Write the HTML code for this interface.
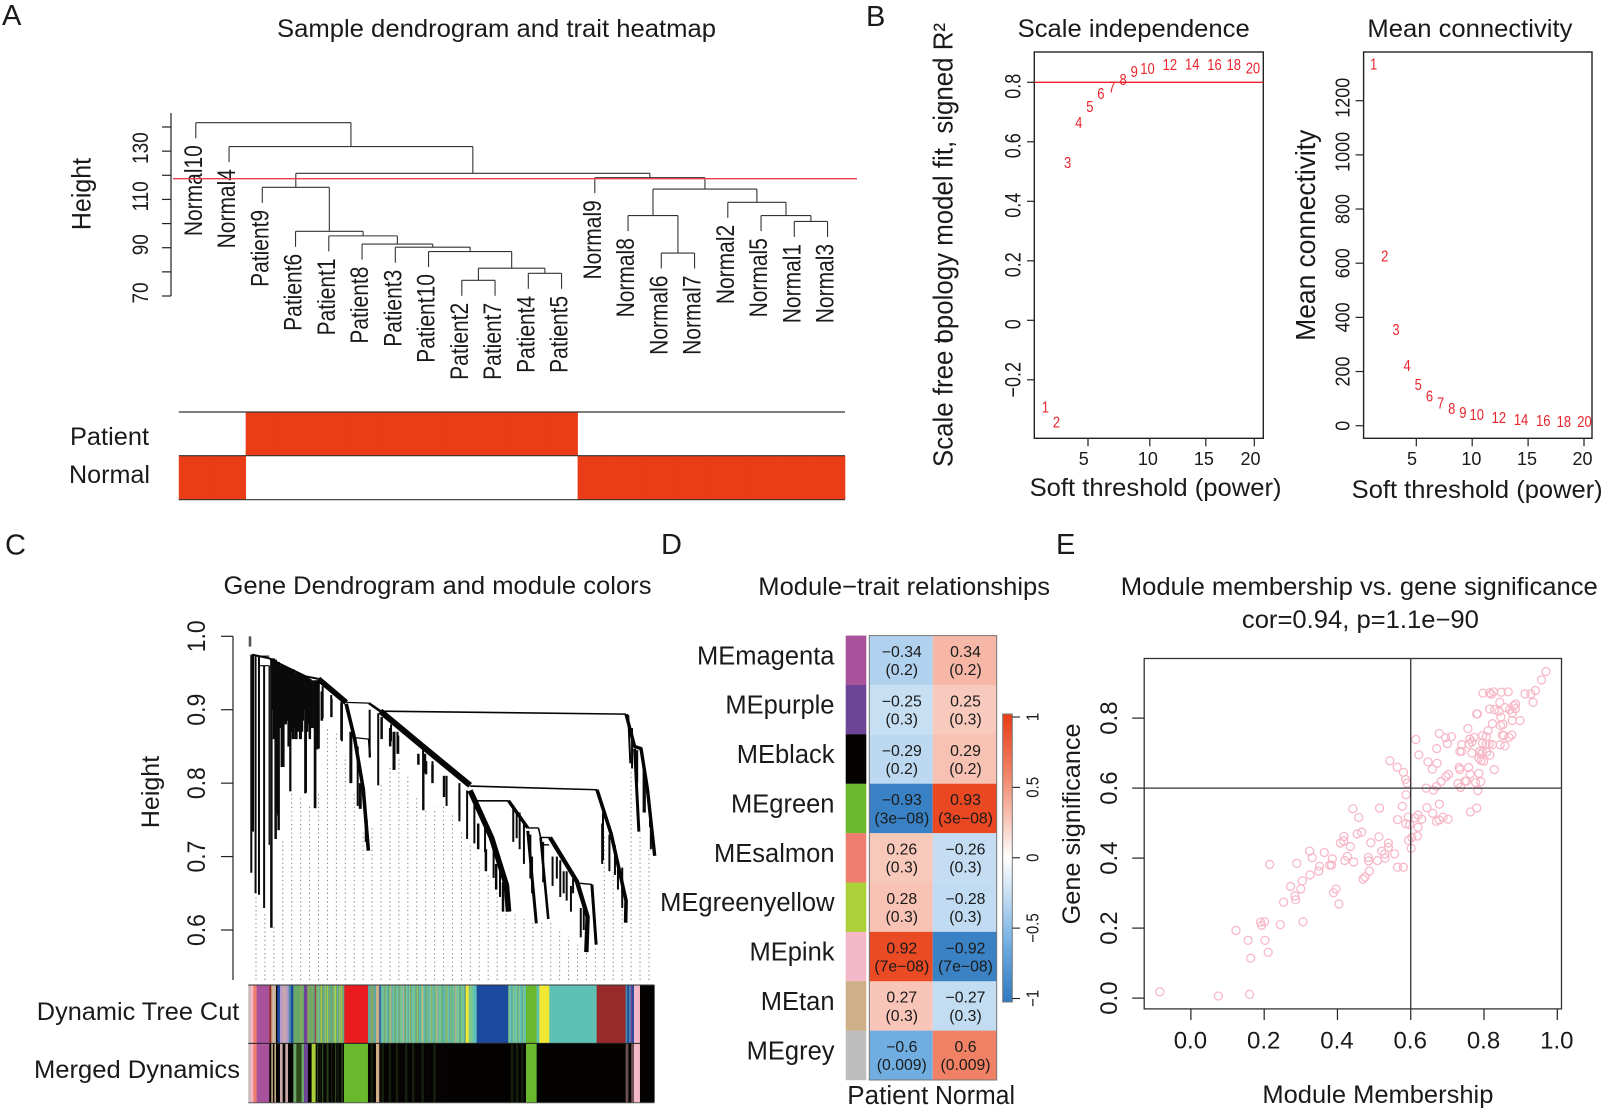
<!DOCTYPE html>
<html lang="en">
<head>
<meta charset="utf-8">
<title>WGCNA figure</title>
<style>
html,body{margin:0;padding:0;background:#fff;}
svg{display:block;}
text{font-family:"Liberation Sans",sans-serif;fill:#1a1a1a;}
</style>
</head>
<body>
<svg id="fig" xmlns="http://www.w3.org/2000/svg" width="1605" height="1111" viewBox="0 0 1605 1111">
<rect x="0" y="0" width="1605" height="1111" fill="#fff"/>

<text x="2" y="25" font-size="29">A</text>
<text x="866" y="26" font-size="29">B</text>
<text x="5" y="554.5" font-size="29">C</text>
<text x="661" y="554" font-size="29">D</text>
<text x="1056" y="554" font-size="29">E</text>

<text x="277" y="37" font-size="25" textLength="439" lengthAdjust="spacingAndGlyphs">Sample dendrogram and trait heatmap</text>
<text transform="translate(90.5,194) rotate(-90) scale(1,1.08)" text-anchor="middle" font-size="25">Height</text>
<text x="70" y="445" font-size="25" textLength="79" lengthAdjust="spacingAndGlyphs">Patient</text>
<text x="69" y="483" font-size="25" textLength="81" lengthAdjust="spacingAndGlyphs">Normal</text>

<text x="1017.7" y="37" font-size="25" textLength="232" lengthAdjust="spacingAndGlyphs">Scale independence</text>
<text x="1367.4" y="37" font-size="25" textLength="205" lengthAdjust="spacingAndGlyphs">Mean connectivity</text>
<text transform="translate(952.6,467) rotate(-90) scale(1,1.1)" font-size="25" textLength="444" lengthAdjust="spacingAndGlyphs">Scale free t<tspan dx="-7">opology model fit, signed R²</tspan></text>
<text transform="translate(1315,340.7) rotate(-90) scale(1,1.1)" font-size="25" textLength="211" lengthAdjust="spacingAndGlyphs">Mean connectivity</text>
<text x="1029.6" y="496" font-size="25" textLength="252" lengthAdjust="spacingAndGlyphs">Soft threshold (power)</text>
<text x="1351.7" y="498" font-size="25" textLength="251" lengthAdjust="spacingAndGlyphs">Soft threshold (power)</text>

<text x="223.5" y="594" font-size="25" textLength="428" lengthAdjust="spacingAndGlyphs">Gene Dendrogram and module colors</text>
<text transform="translate(159,792) rotate(-90)" text-anchor="middle" font-size="25">Height</text>
<text x="36.8" y="1020" font-size="25" textLength="202.5" lengthAdjust="spacingAndGlyphs">Dynamic Tree Cut</text>
<text x="34" y="1078" font-size="25" textLength="206" lengthAdjust="spacingAndGlyphs">Merged Dynamics</text>

<text x="758.3" y="595" font-size="25" textLength="291.7" lengthAdjust="spacingAndGlyphs">Module−trait relationships</text>
<text x="847.3" y="1104" font-size="25.5" textLength="81" lengthAdjust="spacingAndGlyphs">Patient</text>
<text x="935" y="1104" font-size="25.5" textLength="80" lengthAdjust="spacingAndGlyphs">Normal</text>

<text x="1120.8" y="595" font-size="25" textLength="477" lengthAdjust="spacingAndGlyphs">Module membership vs. gene significance</text>
<text x="1241.9" y="628" font-size="25" textLength="237" lengthAdjust="spacingAndGlyphs">cor=0.94, p=1.1e−90</text>
<text x="1262.4" y="1103" font-size="25" textLength="231" lengthAdjust="spacingAndGlyphs">Module Membership</text>
<text transform="translate(1080,924.4) rotate(-90)" font-size="25" textLength="201" lengthAdjust="spacingAndGlyphs">Gene significance</text>
</svg>

<script>
/* ---------- Panel A data ---------- */
const sampleNames = ["Normal10","Normal4","Patient9","Patient6","Patient1","Patient8","Patient3","Patient10","Patient2","Patient7","Patient4","Patient5","Normal9","Normal8","Normal6","Normal7","Normal2","Normal5","Normal1","Normal3"];
/* nested merges: [height, left, right]; a bare number is a leaf index */
const sampleTree = [141.8, 0, [131.9, 1, [120.8,
  [115, 2, [96.8, 3, [94.9, 4, [91.5, 5, [90.2, 6, [88.4, 7, [81.5, [76.5, 8, 9], [79.4, 10, 11]]]]]]]],
  [119, 12, [114.3, [103.3, 13, [87.8, 14, 15]], [108.8, 16, [103.3, 17, [100.9, 18, 19]]]]]
]]];
const sampleHeightTicks = [70,80,90,100,110,120,130,140];
const sampleHeightLabels = [70,90,110,130];
const sampleCutHeight = 118.6;
const traitRows = ["Patient","Normal"];
const traitPatientFlags = [0,0,1,1,1,1,1,1,1,1,1,1,0,0,0,0,0,0,0,0];

/* ---------- Panel B data ---------- */
const softPowers = [1,2,3,4,5,6,7,8,9,10,12,14,16,18,20];
const scaleFitValues = [-0.291,-0.342,0.531,0.665,0.718,0.762,0.785,0.81,0.837,0.847,0.86,0.861,0.86,0.859,0.848];
const meanConnectivityValues = [1335,627,356,223,153,110,83,64,49,42,30,22,18.5,16,15];
const powerTicks = [5,10,15,20];
const scaleFitTicks = [-0.2,0,0.2,0.4,0.6,0.8];
const connectivityTicks = [0,200,400,600,800,1000,1200];
const scaleFitThreshold = 0.8;

/* ---------- Panel C data (rank = position along the gene order, height = dissimilarity) ---------- */
const geneBackbones = [
 {w:2.6,pts:[[4,1.0],[4,.986]],c:"#555"},
 {w:2,pts:[[9,.975],[49,.970],[79,.961],[134,.9455],[164,.942]]},
 {w:5.5,pts:[[164,.942],[229,.910]]},
 {w:1.2,pts:[[229,.910],[282,.909]]},
 {w:2.5,pts:[[282,.909],[309,.898]]},
 {w:6,pts:[[309,.898],[404,.852],[519,.797]]},
 {w:3.6,pts:[[229,.908],[249,.860],[269,.792],[281,.708]]},
 {w:1.2,pts:[[249,.862],[282,.860]]},
 {w:2,pts:[[282,.860],[285,.835]]},
 {w:1.6,pts:[[309,.898],[884,.894]]},
 {w:3.4,pts:[[884,.894],[904,.850],[919,.847],[934,.792],[951,.701]]},
 {w:2,pts:[[889,.893],[894,.827]]},
 {w:3,pts:[[904,.847],[914,.734]]},
 {w:1.6,pts:[[519,.796],[816,.791]]},
 {w:3.6,pts:[[816,.791],[849,.731],[884,.640],[883,.610]]},
 {w:1.6,pts:[[524,.776],[609,.776]]},
 {w:5.6,pts:[[519,.79],[569,.726],[604,.661],[609,.625]]},
 {w:3.4,pts:[[609,.776],[654,.739]]},
 {w:1.4,pts:[[654,.739],[679,.739]]},
 {w:3,pts:[[654,.735],[674,.609]]},
 {w:1.6,pts:[[679,.739],[684,.726]]},
 {w:1.4,pts:[[684,.726],[706,.726]]},
 {w:1.4,pts:[[684,.716],[704,.716]]},
 {w:2.6,pts:[[684,.726],[702,.615]]},
 {w:4.4,pts:[[706,.726],[769,.666],[794,.618],[791,.570]]},
 {w:1.4,pts:[[769,.664],[804,.662]]},
 {w:3,pts:[[804,.662],[814,.580]]},
 {w:1.1,pts:[[27,.973],[49,.973]]},
 {w:1.1,pts:[[27,.96],[49,.96]]}
];
const geneSpikeRanks = [7,11,17,25,37,54,49,64,71,79,69,84,99,105,115,125,135,140,150,157,165,174,194,219,256,284,304,334,349,409,414,431,464,494,512,529,554,574,589,60,75,92,110,120,130,145,160,620,635,664,712,730,745,760,830,845,865,875,925,940,
 58,63,68,74,78,82,87,91,95,98,103,107,112,117,122,127,133,137,144,150,156,161,172,195,218,240,262,276,312,332,341,351,398,410,416,431,458,494,538,556,580,596,628,645,660,690,722,738,755,778,785,828,858,875,898,910,928,942];
const geneSpikeTops = [.975,.975,.975,.972,.96,.97,.96,.968,.965,.96,.96,.958,.955,.955,.95,.948,.945,.945,.94,.94,.938,.932,.92,.912,.85,.9,.895,.88,.87,.85,.84,.83,.81,.8,.79,.77,.74,.72,.69,.968,.96,.957,.95,.95,.945,.942,.94,.77,.76,.70,.70,.695,.68,.67,.76,.73,.69,.66,.82,.76,
 .97,.968,.965,.96,.96,.958,.957,.956,.955,.955,.953,.952,.95,.95,.948,.947,.945,.945,.942,.94,.94,.94,.925,.915,.91,.87,.80,.75,.89,.875,.87,.865,.84,.84,.83,.825,.81,.79,.745,.71,.69,.665,.76,.745,.73,.72,.70,.68,.66,.63,.64,.745,.715,.685,.875,.845,.82,.75];
const geneSpikeBottoms = [.678,.734,.650,.648,.630,.603,.716,.724,.736,.822,.756,.893,.789,.86,.88,.87,.787,.88,.9,.766,.847,.888,.89,.857,.769,.835,.797,.857,.84,.764,.814,.802,.769,.756,.724,.718,.706,.671,.645,.86,.875,.89,.9,.905,.9,.895,.9,.72,.71,.65,.66,.645,.64,.65,.695,.68,.655,.63,.76,.74,
 .90,.88,.76,.90,.89,.822,.88,.885,.85,.789,.87,.875,.86,.87,.86,.885,.786,.87,.86,.875,.766,.846,.885,.89,.859,.80,.765,.72,.86,.85,.818,.84,.825,.763,.812,.80,.781,.748,.71,.68,.655,.625,.725,.69,.67,.665,.67,.65,.625,.59,.60,.69,.675,.65,.82,.80,.76,.71];
const geneSpikeWidths = [2,2,2,2,2,2.5,1.4,2.5,2.5,3,1.6,3,1.6,3,3,3,2,3,2.5,2,2,2,2,2,2,2,2,2,2,2,2,2,2,2,2,2,2,2,2,2.5,2.5,2.5,2.5,2.5,2.5,2.5,2.5,2,2,2,2,2,2,2,2,2,2,2,2,2,
 4,3,3,3,3,2.5,3,3,3,2,3,3,3,3,3,3,2,3,2.5,3,2.5,2.5,2.5,2,2.5,3,3,3,2.5,2.5,3,2,2.5,2,2.5,2.5,2.5,2,2.5,2.5,2.5,2.5,2,2,2,2,2,2,2,2,2,2,2,2,2,2,2,2];
const guideEnvelopeRanks = [0,19,59,79,99,159,189,219,279,309,349,409,464,519,609,669,704,789,815,819,884,894,914,951];
const guideEnvelopeHeights = [.648,.648,.603,.716,.789,.766,.89,.857,.708,.797,.84,.764,.769,.718,.625,.609,.615,.570,.580,.76,.610,.827,.734,.701];
const geneHeightTicks = [0.6,0.7,0.8,0.9,1.0];
const moduleKey = {a:"#c8b8b8",p:"#f4b8c8",s:"#f07e6e",m:"#a8529c",b:"#982a2c",n:"#cdb087",k:"#050202",B:"#1c4a9e",l:"#b89cc8",T:"#4a88b0",g:"#6ab82c",G:"#6aa868",u:"#6e4496",y:"#f0e832",Y:"#acd037",t:"#5fc0b6",q:"#5fa8a0",L:"#80c888",o:"#8aa860",r:"#ea1c20",d:"#2e4a18",D:"#15200c",h:"#c8a8a8",e:"#6a5050"};
/* [span, colour keys spread evenly across that span] */
const dynamicTreeCutRuns = [[7,"a"],[8,"p"],[10,"s"],[38,"m"],[6,"b"],[14,"nan"],[4,"k"],[8,"B"],[26,"lhl"],[14,"TB"],[15,"G"],[17,"GoG"],[10,"u"],[13,"oG"],
 [98,"oGqboGLqoYGqoLGYqoGqGoLYGqoLoYGq"],[71,"r"],[24,"qoq"],[10,"n"],[4,"B"],
 [256,"qtLqoLtqGLnqtLGqLtoqLLtnqGLtqLoqLtLqoLGtqLnLtqGLqtLoLqtGLnqLtLGqtqLoLtqLGtLqnLtLqGLtLqo"],[8,"y"],[24,"Lt"],[95,"B"],[53,"LtqLtLqLtqLt"],[32,"g"],[8,"t"],[30,"y"],[142,"t"],[87,"b"],[25,"TBTuB"],[18,"p"],[43,"k"]];
const mergedDynamicsRuns = [[7,"a"],[8,"p"],[10,"s"],[38,"m"],[6,"k"],[14,"nkn"],[12,"k"],[24,"hkh"],[16,"k"],[18,"Gd"],[14,"dG"],[12,"u"],[11,"k"],[12,"Y"],
 [85,"kdkDkdkkDdkkDkkdkDkkdk"],[72,"g"],[24,"kDk"],[10,"n"],[190,"kDkkDkkDkkkDkkDkkkDkkkkDkkk"],[197,"k"],[53,"kDkDkDk"],[32,"g"],[267,"k"],[25,"eke"],[18,"p"],[43,"k"]];

/* ---------- Panel D data ---------- */
const moduleNames = ["MEmagenta","MEpurple","MEblack","MEgreen","MEsalmon","MEgreenyellow","MEpink","MEtan","MEgrey"];
const moduleColors = ["#a8529c","#6e4496","#050202","#6ab82c","#f07e6e","#acd037","#f4b8c8","#cdb087","#bebebe"];
const patientCor = [-0.34,-0.25,-0.29,-0.93,0.26,0.28,0.92,0.27,-0.6];
const normalCor = [0.34,0.25,0.29,0.93,-0.26,-0.28,-0.92,-0.27,0.6];
const corPValues = ["(0.2)","(0.3)","(0.2)","(3e−08)","(0.3)","(0.3)","(7e−08)","(0.3)","(0.009)"];
const corBarTicks = [-1,-0.5,0,0.5,1];
const corStopValues = [-1,-0.9,-0.6,-0.3,0,0.3,0.6,1];
const corStopColors = ["#2f79bf","#3e84c7","#70aee2","#bbd8f1","#ffffff","#f7bfb0","#f08164","#e83c14"];

/* ---------- Panel E data ---------- */
const scatterTicksX = [0,0.2,0.4,0.6,0.8,1.0];
const scatterTicksY = [0,0.2,0.4,0.6,0.8];
const moduleMembership = [-.085,.075,.160,.123,.156,.163,.202,.211,.190,.193,.201,.244,.306,.215,.253,.272,.284,.286,.300,.304,.325,.289,.324,.331,.351,.349,.364,.379,.384,.386,.389,.396,.404,.408,.417,.418,.435,.420,.427,.444,.442,.458,.454,.466,.470,.475,.487,.484,.485,.491,.509,.513,.515,.521,.529,.530,.539,.539,.556,.564,.580,.564,.577,.543,.563,.580,.586,.590,.587,.587,.593,.594,.603,.601,.597,.611,.620,.620,.618,.630,.644,.660,.678,.670,.678,.688,.702,.614,.622,.647,.659,.672,.671,.678,.695,.700,.711,.642,.662,.670,.683,.696,.703,.729,.736,.732,.734,.758,.762,.748,.752,.777,.786,.791,.783,.763,.780,.828,.734,.739,.739,.756,.759,.761,.767,.773,.767,.789,.792,.786,.792,.799,.796,.807,.816,.796,.806,.814,.796,.806,.811,.823,.780,.782,.797,.815,.820,.826,.847,.866,.815,.829,.841,.843,.846,.845,.852,.823,.844,.857,.850,.854,.868,.876,.858,.870,.877,.877,.886,.886,.881,.898,.912,.928,.940,.934,.957,.969];
const geneSignificance = [.018,.006,.011,.193,.165,.114,.165,.131,.217,.208,.218,.210,.218,.382,.274,.319,.292,.281,.312,.335,.352,.385,.420,.401,.377,.363,.416,.380,.380,.398,.301,.312,.269,.443,.449,.462,.433,.393,.405,.389,.541,.516,.469,.474,.340,.346,.363,.402,.392,.444,.393,.461,.543,.420,.412,.400,.443,.431,.412,.374,.374,.510,.548,.678,.660,.645,.625,.614,.581,.498,.517,.451,.459,.428,.496,.515,.523,.488,.463,.511,.544,.528,.554,.505,.509,.517,.511,.739,.695,.675,.654,.671,.713,.756,.744,.727,.747,.600,.594,.605,.619,.633,.639,.613,.602,.659,.653,.659,.640,.620,.620,.616,.642,.618,.593,.532,.543,.653,.705,.705,.724,.770,.726,.740,.732,.745,.700,.705,.697,.686,.679,.677,.703,.703,.694,.729,.726,.726,.750,.747,.764,.784,.812,.812,.871,.872,.868,.875,.874,.875,.826,.824,.819,.845,.803,.779,.782,.724,.724,.721,.752,.750,.745,.752,.830,.824,.814,.793,.827,.840,.835,.793,.869,.869,.879,.845,.909,.933];
const scatterCutX = 0.6;
const scatterCutY = 0.6;

/* ---------- drawing helpers ---------- */
const svg = document.getElementById("fig");
const NS = "http://www.w3.org/2000/svg";
const INK = "#222";
function mk(tag, attrs, parent, content){
  const el = document.createElementNS(NS, tag);
  for (const k in attrs) el.setAttribute(k, attrs[k]);
  if (content !== undefined) el.textContent = content;
  (parent || svg).appendChild(el);
  return el;
}
function seg(x1,y1,x2,y2,stroke,w,parent){
  return mk("line",{x1:x1,y1:y1,x2:x2,y2:y2,stroke:stroke||INK,"stroke-width":w||1.2},parent);
}
function pw(dom, rng){
  return function(v){
    let i = 0;
    while (i < dom.length-2 && v > dom[i+1]) i++;
    return rng[i] + (v-dom[i])*(rng[i+1]-rng[i])/(dom[i+1]-dom[i]);
  };
}
function minus(v){ return String(v).replace("-", "−"); }
function group(name){
  const g = mk("g",{});
  
  
  return g;
}

/* ---------- Panel A ---------- */
(function(){
  const g = group("sample-dendrogram-panel");
  const leafX = i => 195.8 + i*33.25;
  const heightY = pw([70,140],[296,127]);
  const axis = seg(171,113,171,296,INK,1.2,g);
  
  
  sampleHeightTicks.forEach(t=>{
    const k = seg(162,heightY(t),171,heightY(t),INK,1.2,g);
    
    
  });
  sampleHeightLabels.forEach(t=>{
    const l = mk("text",{transform:`translate(148,${heightY(t)-3}) rotate(-90) scale(1,1.18)`,"text-anchor":"middle","font-size":19},g,String(t));
    
    
  });
  const LEAF = 15.5;
  function walk(node, parentH){
    if (typeof node === "number"){
      const x = leafX(node), top = heightY(parentH), end = top + LEAF;
      const b = seg(x,top,x,end,"#333",1.1,g);
      
      
      const t = mk("text",{transform:`translate(${x+6},${end+7}) rotate(-90) scale(1,1.2)`,"text-anchor":"end","font-size":21},g,sampleNames[node]);
      
      
      return x;
    }
    const xl = walk(node[1], node[0]), xr = walk(node[2], node[0]);
    const y = heightY(node[0]);
    const h = seg(xl,y,xr,y,"#333",1.1,g);
    
    
    const xm = (xl+xr)/2;
    if (parentH !== undefined){
      const v = seg(xm,y,xm,heightY(parentH),"#333",1.1,g);
      
      
    }
    return xm;
  }
  walk(sampleTree);
  const cut = seg(173,heightY(sampleCutHeight),857,heightY(sampleCutHeight),"#e8404a",1.3,g);
  
  

  const cellX = pw([0,2,12,20],[178.8,245.7,577.6,845]);
  const traitTop = [412,455.7];
  traitRows.forEach((row,r)=>{
    traitPatientFlags.forEach((flag,i)=>{
      const on = r===0 ? flag===1 : flag===0;
      if (!on) return;
      const c = mk("rect",{x:cellX(i),y:traitTop[r],width:cellX(i+1)-cellX(i)+0.3,height:43.9,fill:"#e93c17"},g);
      
      
    });
  });
  [412,455.7,499.7].forEach(y=>{
    const l = seg(178.8,y,845,y,"#333",1.2,g);
    
    
  });
})();

/* ---------- Panel B ---------- */
(function(){
  const g = group("soft-threshold-panels");
  const fitY = pw([0,0.8],[320.3,82.3]);
  const conY = pw([0,1200],[425.7,100.7]);
  const fitLabelX = pw([1,9,10,16,20],[1041.8,1130.6,1140.3,1207.3,1245.7]);
  const conLabelX = pw([1,9,10,16,20],[1370,1459.3,1469.5,1536,1577.3]);
  const fitTickX = pw([5,10,15,20],[1088,1149.8,1205.8,1254.3]);
  const fitTickTextX = pw([5,10,15,20],[1083.8,1147.9,1203.9,1250.5]);
  const conTickX = pw([5,20],[1416.3,1584]);
  const conTickTextX = pw([5,10,15,20],[1412,1471.4,1527,1582.5]);

  const box1 = mk("rect",{x:1034.3,y:52,width:229,height:386.3,fill:"none",stroke:INK,"stroke-width":1.4},g);
  
  
  const box2 = mk("rect",{x:1363.6,y:52,width:228.4,height:386.3,fill:"none",stroke:INK,"stroke-width":1.4},g);
  
  

  scaleFitTicks.forEach(t=>{
    const k = seg(1027,fitY(t),1034.3,fitY(t),INK,1.2,g);
    
    
    const l = mk("text",{transform:`translate(1020.6,${fitY(t)+(t<0?0:4)}) rotate(-90) scale(1,1.22)`,"text-anchor":"middle","font-size":18},g,minus(t));
    
    
  });
  connectivityTicks.forEach(t=>{
    const k = seg(1355.6,conY(t),1363.6,conY(t),INK,1.2,g);
    
    
    const l = mk("text",{transform:`translate(1349.3,${conY(t)+(t>=1000?-3:0)}) rotate(-90) scale(1,1.15)`,"text-anchor":"middle","font-size":18},g,String(t));
    
    
  });
  powerTicks.forEach(t=>{
    const k1 = seg(fitTickX(t),438.3,fitTickX(t),446.3,INK,1.2,g);
    
    
    const l1 = mk("text",{x:fitTickTextX(t),y:465,"text-anchor":"middle","font-size":18},g,String(t));
    
    
    const k2 = seg(conTickX(t),438.3,conTickX(t),446.3,INK,1.2,g);
    
    
    const l2 = mk("text",{x:conTickTextX(t),y:465,"text-anchor":"middle","font-size":18},g,String(t));
    
    
  });
  const thr = seg(1034.3,fitY(scaleFitThreshold),1263.3,fitY(scaleFitThreshold),"#e8202a",1.4,g);
  
  
  softPowers.forEach((p,i)=>{
    const a = mk("text",{transform:`translate(${fitLabelX(p)},${fitY(scaleFitValues[i])+5.5}) scale(1,1.2)`,"font-size":13,style:"fill:#e8242c"},g,String(p));
    
    
    const b = mk("text",{transform:`translate(${conLabelX(p)},${conY(meanConnectivityValues[i])+5.5}) scale(1,1.2)`,"font-size":13,style:"fill:#e8242c"},g,String(p));
    
    
  });
})();

/* ---------- Panel C ---------- */
(function(){
  const g = group("gene-dendrogram-panel");
  const rankX = pw([0,951],[248.3,654.7]);
  const heightY = pw([0.6,1.0],[930,636.3]);
  const envelope = pw(guideEnvelopeRanks, guideEnvelopeHeights);
  const BOTTOM = 980;
  for (let r = 18; r < 951; r += 20.9){
    const d = seg(rankX(r),BOTTOM,rankX(r),heightY(envelope(r)),"#777",1,g);
    d.setAttribute("stroke-dasharray","1.2 3.1");
    
    
  }
  geneSpikeRanks.forEach((r,i)=>{
    const s = seg(rankX(r),heightY(geneSpikeTops[i]),rankX(r),heightY(geneSpikeBottoms[i]),"#0a0a0a",geneSpikeWidths[i],g);
    
    
  });
  geneBackbones.forEach(b=>{
    const pts = b.pts.map(p=>rankX(p[0])+","+heightY(p[1])).join(" ");
    const l = mk("polyline",{points:pts,fill:"none",stroke:b.c||"#050505","stroke-width":b.w,"stroke-linejoin":"round"},g);
    
    
  });
  const axis = seg(233,636.3,233,980,INK,1.2,g);
  
  
  geneHeightTicks.forEach(t=>{
    const k = seg(221,heightY(t),233,heightY(t),INK,1.2,g);
    
    
    const l = mk("text",{transform:`translate(205,${heightY(t)}) rotate(-90) scale(1,1.1)`,"text-anchor":"middle","font-size":23},g,t.toFixed(1));
    
    
  });
  const stripX = pw([0,1218],[248.3,654.3]);
  function strip(runs, top, height, name){
    let pos = 0;
    runs.forEach(run=>{
      const keys = run[1], each = run[0]/keys.length;
      for (let j=0;j<keys.length;j++){
        const x0 = stripX(pos+j*each), x1 = stripX(pos+(j+1)*each);
        const c = mk("rect",{x:x0,y:top,width:x1-x0+0.3,height:height,fill:moduleKey[keys[j]]},g);
        
        
      }
      pos += run[0];
    });
  }
  strip(dynamicTreeCutRuns,985,58.5,"dynamic-tree-cut-segment");
  strip(mergedDynamicsRuns,1043.5,59,"merged-dynamics-segment");
  const r1 = seg(248.3,985,654.3,985,"#333",1,g);
  
  
  const r2 = seg(248.3,1043.4,640,1043.4,"#222",1,g);
  
  
  const r3 = seg(248.3,1102.7,654.3,1102.7,"#555",1,g);
  
  
})();

/* ---------- Panel D ---------- */
(function(){
  const g = group("module-trait-panel");
  const hex = c => [1,3,5].map(i=>parseInt(c.substr(i,2),16));
  function corColor(v){
    let i = 0;
    while (i < corStopValues.length-2 && v > corStopValues[i+1]) i++;
    const t = (v-corStopValues[i])/(corStopValues[i+1]-corStopValues[i]);
    const a = hex(corStopColors[i]), b = hex(corStopColors[i+1]);
    return "rgb("+a.map((x,k)=>Math.round(x+(b[k]-x)*t)).join(",")+")";
  }
  const TOP = 635.6, ROW = (1080-635.6)/moduleNames.length;
  const colX = [869.3,932.7], colW = [63.4,64];
  moduleNames.forEach((name,r)=>{
    const y = TOP + r*ROW;
    const sw = mk("rect",{x:845.7,y:y,width:20.6,height:ROW+0.2,fill:moduleColors[r]},g);
    
    
    const lb = mk("text",{x:834.5,y:y+ROW/2+4,"text-anchor":"end","font-size":25.5},g,name);
    
    
    [patientCor[r],normalCor[r]].forEach((v,c)=>{
      const cell = mk("rect",{x:colX[c],y:y,width:colW[c],height:ROW+0.2,fill:corColor(v)},g);
      
      
      const cx = colX[c]+colW[c]/2+0.8;
      const t1 = mk("text",{x:cx,y:y+21.4,"text-anchor":"middle","font-size":15.8},g,minus(v));
      
      
      const t2 = mk("text",{x:cx,y:y+39.6,"text-anchor":"middle","font-size":15.8},g,corPValues[r]);
      
      
    });
  });
  const frame = mk("rect",{x:869.3,y:635.6,width:127.4,height:444.4,fill:"none",stroke:"#777","stroke-width":1},g);
  
  

  const barY = pw([-1,1],[998.5,717]);
  const defs = mk("defs",{},g);
  const grad = mk("linearGradient",{id:"corGrad",x1:0,y1:1,x2:0,y2:0},defs);
  corStopValues.forEach((v,i)=>{
    mk("stop",{offset:((v+1)/2*100)+"%","stop-color":corStopColors[i]},grad);
  });
  const bar = mk("rect",{x:1002.7,y:714,width:9.6,height:288,fill:"url(#corGrad)",stroke:"#777","stroke-width":1},g);
  
  
  corBarTicks.forEach(t=>{
    const k = seg(1012.3,barY(t),1020,barY(t),INK,1.1,g);
    
    
    const l = mk("text",{transform:`translate(1038.3,${barY(t)}) rotate(-90) scale(1,1.15)`,"text-anchor":"middle","font-size":15},g,minus(t));
    
    
  });
})();

/* ---------- Panel E ---------- */
(function(){
  const g = group("membership-scatter-panel");
  const x = pw([0,1],[1190.9,1557.3]);
  const y = pw([0,0.8],[998.1,718.1]);
  moduleMembership.forEach((m,i)=>{
    const c = mk("circle",{cx:x(m),cy:y(geneSignificance[i]),r:4,fill:"none",stroke:"#f7b9c9","stroke-width":1.3},g);
    
    
  });
  const box = mk("rect",{x:1144.2,y:658.5,width:417.3,height:350.4,fill:"none",stroke:"#333","stroke-width":1.3},g);
  
  
  const v = seg(x(scatterCutX),658.5,x(scatterCutX),1008.9,"#333",1.3,g);
  
  
  const h = seg(1144.2,y(scatterCutY),1561.5,y(scatterCutY),"#333",1.3,g);
  
  
  scatterTicksX.forEach(t=>{
    const k = seg(x(t),1008.9,x(t),1020,INK,1.2,g);
    
    
    const l = mk("text",{x:x(t)-0.5,y:1048.5,"text-anchor":"middle","font-size":24},g,t.toFixed(1));
    
    
  });
  scatterTicksY.forEach(t=>{
    const k = seg(1132.2,y(t),1144.2,y(t),INK,1.2,g);
    
    
    const l = mk("text",{transform:`translate(1117,${y(t)}) rotate(-90)`,"text-anchor":"middle","font-size":24},g,t.toFixed(1));
    
    
  });
})();
</script>
</body>
</html>
